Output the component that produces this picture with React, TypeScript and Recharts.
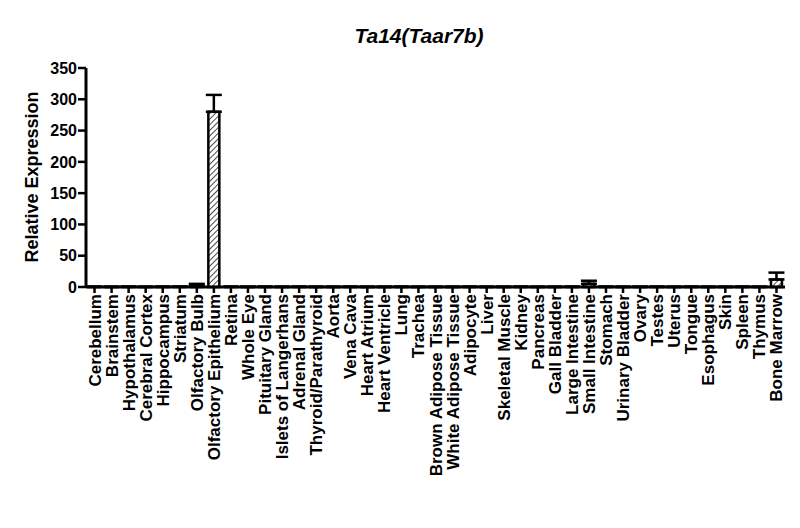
import { Bar, BarChart, ErrorBar, XAxis, YAxis } from 'recharts';

const tissues = [
  'Cerebellum', 'Brainstem', 'Hypothalamus', 'Cerebral Cortex', 'Hippocampus', 'Striatum',
  'Olfactory Bulb', 'Olfactory Epithelium', 'Retina', 'Whole Eye', 'Pituitary Gland',
  'Islets of Langerhans', 'Adrenal Gland', 'Thyroid/Parathyroid', 'Aorta', 'Vena Cava',
  'Heart Atrium', 'Heart Ventricle', 'Lung', 'Trachea', 'Brown Adipose Tissue',
  'White Adipose Tissue', 'Adipocyte', 'Liver', 'Skeletal Muscle', 'Kidney', 'Pancreas',
  'Gall Bladder', 'Large Intestine', 'Small Intestine', 'Stomach', 'Urinary Bladder', 'Ovary',
  'Testes', 'Uterus', 'Tongue', 'Esophagus', 'Skin', 'Spleen', 'Thymus', 'Bone Marrow',
];

const expression = [
  0.3, 0.2, 0.3, 0.2, 0.3, 0.4,
  3, 280, 0.3, 0.2, 0.3,
  0.2, 0.3, 0.2, 0.2, 0.3,
  0.2, 0.2, 0.3, 0.2, 0.2,
  0.2, 0.3, 0.2, 0.2, 0.3, 0.2,
  0.2, 0.3, 5, 0.3, 0.2, 0.2,
  0.3, 0.2, 0.3, 0.2, 0.2, 0.3, 0.2, 12,
];

const sem = [
  0.1, 0.1, 0.1, 0.1, 0.1, 0.1,
  2, 27, 0.1, 0.1, 0.1,
  0.1, 0.1, 0.1, 0.1, 0.1,
  0.1, 0.1, 0.1, 0.1, 0.1,
  0.1, 0.1, 0.1, 0.1, 0.1, 0.1,
  0.1, 0.1, 5, 0.1, 0.1, 0.1,
  0.1, 0.1, 0.1, 0.1, 0.1, 0.1, 0.1, 11,
];

const yTicks = [0, 50, 100, 150, 200, 250, 300, 350];

const chartData = tissues.map((name, i) => ({
  name,
  value: expression[i],
  err: [0, sem[i]],
}));

const font = '"Liberation Sans", Arial, sans-serif';

const TissueTick = (props: any) => {
  const { x, y, payload } = props;
  const tx = x + 6;
  const ty = y + 1;
  return (
    <text
      x={tx}
      y={ty}
      transform={`rotate(-90, ${tx}, ${ty})`}
      textAnchor="end"
      fontFamily={font}
      fontWeight="bold"
      fontSize={17}
      fill="#000"
    >
      {payload.value}
    </text>
  );
};

export default function App() {
  return (
    <div style={{ position: 'absolute', left: 0, top: 0, width: 800, height: 528, background: '#fff' }}>
      <svg width={0} height={0} style={{ position: 'absolute' }}>
        <defs>
          <pattern id="hatch" width={4} height={4} patternUnits="userSpaceOnUse" patternTransform="rotate(45)">
            <rect width={4} height={4} fill="#fff" />
            <line x1={0} y1={0} x2={0} y2={4} stroke="#000" strokeWidth={1.4} />
          </pattern>
        </defs>
      </svg>
      <svg width={800} height={528} style={{ position: 'absolute', left: 0, top: 0, pointerEvents: 'none' }}>
        <text x={419} y={43} textAnchor="middle" fontFamily={font} fontWeight="bold" fontStyle="italic" fontSize={21}>
          Ta14(Taar7b)
        </text>
        <text
          x={38}
          y={177}
          transform="rotate(-90, 38, 177)"
          textAnchor="middle"
          fontFamily={font}
          fontWeight="bold"
          fontSize={18}
        >
          Relative Expression
        </text>
      </svg>
      <BarChart
        width={800}
        height={528}
        data={chartData}
        margin={{ top: 68, right: 15, left: 0, bottom: 1 }}
        barCategoryGap={0}
      >
        <XAxis
          dataKey="name"
          interval={0}
          height={240}
          tick={<TissueTick />}
          tickSize={6}
          tickMargin={0}
          axisLine={{ stroke: '#000', strokeWidth: 3 }}
          tickLine={{ stroke: '#000', strokeWidth: 2.5 }}
        />
        <YAxis
          width={86}
          domain={[0, 350]}
          ticks={yTicks}
          tickSize={8}
          tickMargin={1}
          axisLine={{ stroke: '#000', strokeWidth: 3 }}
          tickLine={{ stroke: '#000', strokeWidth: 2.5 }}
          tick={{ fill: '#000', fontFamily: font, fontWeight: 'bold', fontSize: 16 }}
        />
        <Bar dataKey="value" barSize={11} fill="url(#hatch)" stroke="#000" strokeWidth={2.5} isAnimationActive={false}>
          <ErrorBar dataKey="err" width={8} stroke="#000" strokeWidth={2.5} direction="y" />
        </Bar>
      </BarChart>
    </div>
  );
}
